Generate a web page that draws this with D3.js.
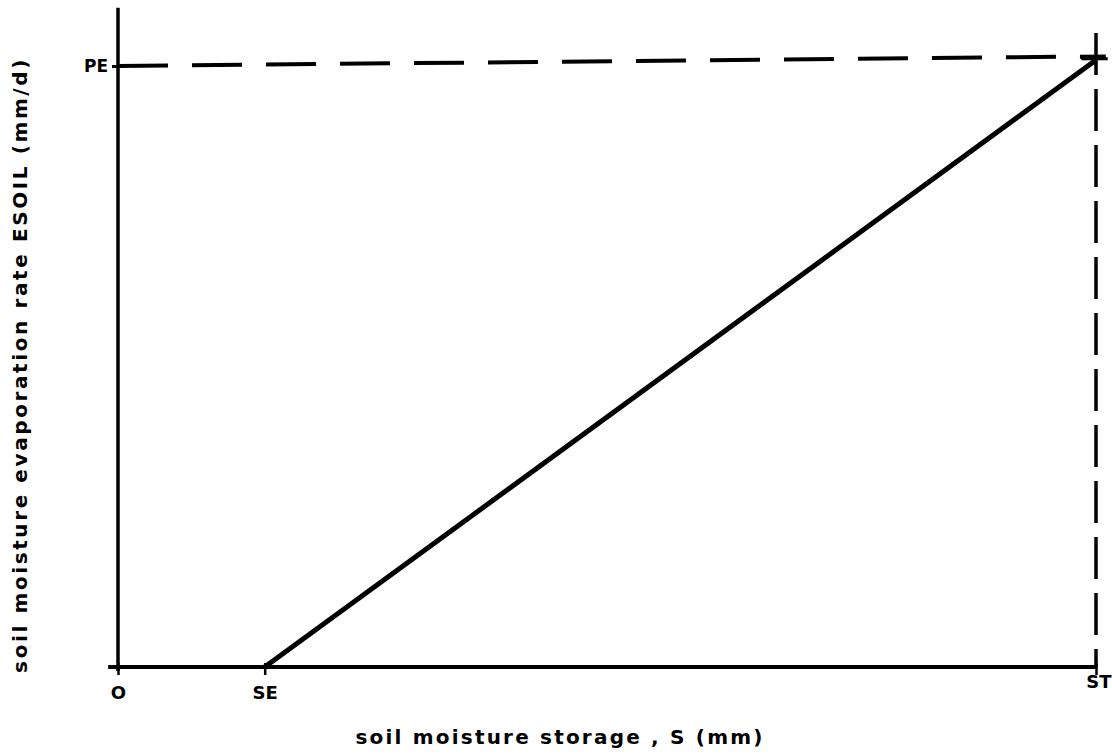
<!DOCTYPE html>
<html>
<head>
<meta charset="utf-8">
<script src="https://cdn.jsdelivr.net/npm/d3@7"></script>
<style>
  body { margin: 0; background: #fff; }
  text { font-family: "DejaVu Sans", sans-serif; font-weight: bold; fill: #000; }
</style>
</head>
<body>
<div id="chart"></div>
<script>
// storage S (fraction of ST), ESOIL (fraction of PE)
var xTickLabels = ['O', 'SE', 'ST'];
var xTickValues = [0, 0.15, 1];
var yTickLabels = ['PE'];
var yTickValues = [1];
var esoilS = [0.15, 1];
var esoilE = [0, 1.01];

var width = 1112, height = 755;

var svg = d3.select('#chart').append('svg')
    .attr('width', width)
    .attr('height', height);

var x = d3.scaleLinear().domain([0, 1]).range([118, 1096]);
var y = d3.scaleLinear().domain([0, 1]).range([667, 66]);

// axis lines
svg.append('line')
    .attr('x1', x(0)).attr('x2', x(0))
    .attr('y1', y(0) + 4).attr('y2', y(1.097))
    .attr('stroke', '#000').attr('stroke-width', 3.5);
svg.append('line')
    .attr('x1', x(-0.01)).attr('x2', x(1))
    .attr('y1', y(0)).attr('y2', y(0))
    .attr('stroke', '#000').attr('stroke-width', 4);

var xAxis = d3.axisBottom(x)
    .tickValues(xTickValues)
    .tickFormat(function(d, i) { return xTickLabels[i]; })
    .tickSizeInner(8).tickSizeOuter(0).tickPadding(8);

var gx = svg.append('g')
    .attr('transform', 'translate(0,' + (y(0) - 4) + ')')
    .call(xAxis);
gx.select('.domain').remove();
gx.selectAll('line').attr('stroke', '#000').attr('stroke-width', 2.5).attr('y2', 12);
gx.selectAll('text').attr('font-size', 18).attr('dy', '1.1em');
gx.selectAll('.tick').filter(function(d) { return d === 1; })
    .select('text').attr('text-anchor', 'end').attr('dx', 15).attr('dy', '0.5em');

var yAxis = d3.axisLeft(y)
    .tickValues(yTickValues)
    .tickFormat(function(d, i) { return yTickLabels[i]; })
    .tickSizeInner(6).tickSizeOuter(0).tickPadding(4);

var gy = svg.append('g')
    .attr('transform', 'translate(' + x(0) + ',0)')
    .call(yAxis);
gy.select('.domain').remove();
gy.selectAll('line').attr('stroke', '#000').attr('stroke-width', 3);
gy.selectAll('text').attr('font-size', 17);

// dashed guides at PE and ST
svg.append('line')
    .attr('x1', x(0)).attr('x2', x(1.01))
    .attr('y1', y(1)).attr('y2', y(1.016))
    .attr('stroke', '#000').attr('stroke-width', 4)
    .attr('stroke-dasharray', '50,24');
svg.append('line')
    .attr('x1', x(1)).attr('x2', x(1))
    .attr('y1', y(1.055)).attr('y2', y(0))
    .attr('stroke', '#000').attr('stroke-width', 3.5)
    .attr('stroke-dasharray', '42,14');
// small cross at top right corner
svg.append('line')
    .attr('x1', x(0.985)).attr('x2', x(1.012))
    .attr('y1', y(1.012)).attr('y2', y(1.012))
    .attr('stroke', '#000').attr('stroke-width', 3);

// ESOIL line
var pts = esoilS.map(function(s, i) { return [s, esoilE[i]]; });
svg.append('path')
    .datum(pts)
    .attr('fill', 'none')
    .attr('stroke', '#000')
    .attr('stroke-width', 5)
    .attr('d', d3.line().x(function(d) { return x(d[0]); }).y(function(d) { return y(d[1]); }));

// axis titles
svg.append('text')
    .attr('x', 560).attr('y', 744)
    .attr('text-anchor', 'middle')
    .attr('font-size', 20)
    .attr('letter-spacing', 2.2)
    .text('soil moisture storage , S (mm)');

svg.append('text')
    .attr('transform', 'translate(27,' + 365 + ') rotate(-90)')
    .attr('text-anchor', 'middle')
    .attr('font-size', 20)
    .attr('letter-spacing', 2.6)
    .text('soil moisture evaporation rate ESOIL (mm/d)');
</script>
</body>
</html>
